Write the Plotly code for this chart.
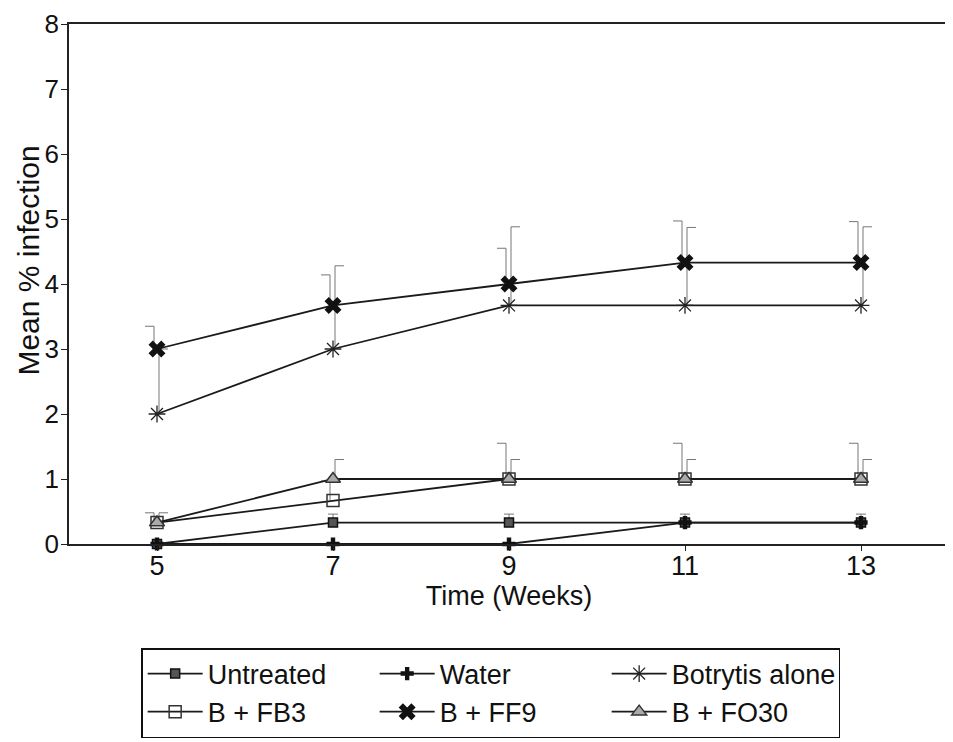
import plotly.graph_objects as go

weeks = [5, 7, 9, 11, 13]

untreated = [0, 0.33, 0.33, 0.33, 0.33]
untreated_se = [0, 0.13, 0.13, 0.13, 0.13]
water = [0, 0, 0, 0.33, 0.33]
water_se = [0, 0, 0, 0, 0]
botrytis = [2.0, 3.0, 3.67, 3.67, 3.67]
botrytis_se = [1.0, 1.28, 1.21, 1.2, 1.21]
fb3 = [0.33, 0.67, 1.0, 1.0, 1.0]
fb3_se = [0.15, 0.3, 0.55, 0.55, 0.55]
ff9 = [3.0, 3.67, 4.0, 4.33, 4.33]
ff9_se = [0.35, 0.47, 0.55, 0.64, 0.63]
fo30 = [0.33, 1.0, 1.0, 1.0, 1.0]
fo30_se = [0.15, 0.3, 0.3, 0.3, 0.3]

names = ["Untreated", "Water", "Botrytis alone", "B + FB3", "B + FF9", "B + FO30"]
values = [untreated, water, botrytis, fb3, ff9, fo30]
errors = [untreated_se, water_se, botrytis_se, fb3_se, ff9_se, fo30_se]
cap_side = ["both", "both", "right", "left", "left", "right"]

markers = [
    dict(symbol="square", size=9, color="#555", line=dict(color="#111", width=1.5)),
    dict(symbol="cross", size=11, color="#111", line=dict(color="#111", width=0)),
    dict(symbol="asterisk-open", size=14, color="#222", line=dict(color="#222", width=1.3)),
    dict(symbol="square-open", size=12, color="#333", line=dict(color="#333", width=1.5)),
    dict(symbol="x", size=15, color="#111", line=dict(color="#111", width=0)),
    dict(symbol="triangle-up", size=13, color="#aaa", line=dict(color="#333", width=1.5)),
]

PX = 1 / 88.0  # one pixel in weeks (approx.)

fig = go.Figure()

# error bars (one-sided, half caps)
for vals, errs, side in zip(values, errors, cap_side):
    ex, ey = [], []
    for x, y, e in zip(weeks, vals, errs):
        if e <= 0:
            continue
        top = y + e
        if side == "left":
            xv = x - 3 * PX
            ex += [xv, xv, xv - 9 * PX, None]
            ey += [y, top, top, None]
        elif side == "right":
            xv = x + 2 * PX
            ex += [xv, xv, xv + 9 * PX, None]
            ey += [y, top, top, None]
        else:
            ex += [x, x, None, x - 5 * PX, x + 5 * PX, None]
            ey += [y, top, None, top, top, None]
    fig.add_trace(go.Scatter(x=ex, y=ey, mode="lines",
                             line=dict(color="#777", width=1),
                             showlegend=False, hoverinfo="skip",
                             cliponaxis=False))

for name, vals, mk in zip(names, values, markers):
    fig.add_trace(go.Scatter(x=weeks, y=vals, name=name, mode="lines+markers",
                             line=dict(color="#1a1a1a", width=1.8),
                             marker=mk, cliponaxis=False))

font = "Liberation Sans, Arial, sans-serif"
fig.update_layout(
    width=953, height=742,
    margin=dict(l=61, r=12, t=16, b=204),
    paper_bgcolor="white", plot_bgcolor="white",
    font=dict(family=font, size=27, color="#111"),
    xaxis=dict(range=[4, 14], tickvals=weeks, ticks="outside", ticklen=5,
               tickcolor="#222", showline=True, linecolor="#222", linewidth=1.5,
               mirror=True, showgrid=False, zeroline=False, automargin=False,
               ticklabeloverflow="allow", ticklabelstandoff=-8,
               title=dict(text="Time (Weeks)", standoff=4,
                          font=dict(family=font, size=27)),
               tickfont=dict(family=font, size=27)),
    yaxis=dict(range=[0, 8], dtick=1, ticks="outside", ticklen=6,
               tickcolor="#222", showline=True, linecolor="#222", linewidth=1.5,
               mirror=True, showgrid=False, zeroline=False, automargin=False,
               ticklabeloverflow="allow", ticklabelstandoff=-3,
               tickfont=dict(family=font, size=26)),
    legend=dict(orientation="h", x=0.082, xanchor="left", y=-0.2, yanchor="top",
                bordercolor="#111", borderwidth=1.5, bgcolor="white",
                itemwidth=55, entrywidth=162, entrywidthmode="pixels",
                font=dict(family=font, size=27), tracegroupgap=0),
    annotations=[dict(text="Mean % infection", textangle=-90, showarrow=False,
                      xref="paper", yref="paper", x=-0.0455, y=0.545,
                      xanchor="center", yanchor="middle",
                      font=dict(family=font, size=30, color="#111"))],
)

fig.write_html("out.html")
